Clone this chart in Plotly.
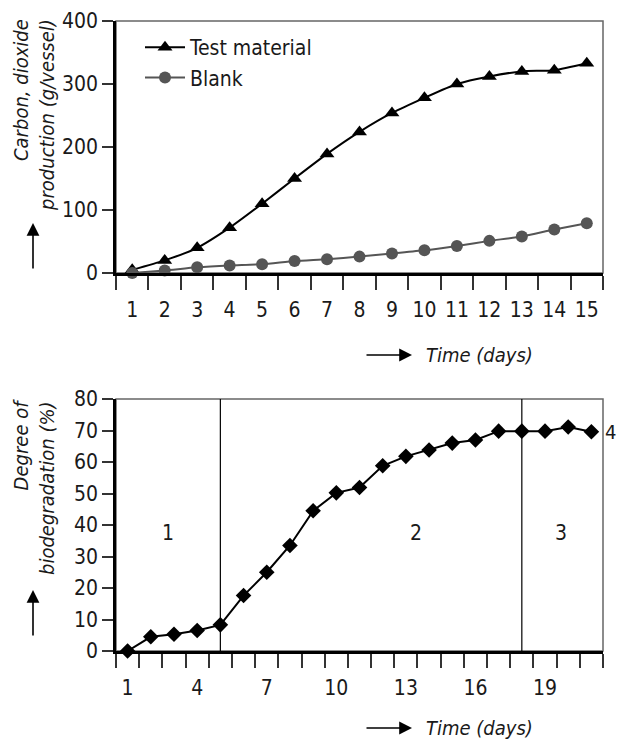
import plotly.graph_objects as go

# --- data -------------------------------------------------------------
days_co2 = list(range(1, 16))
co2_test = [5, 20, 40, 72, 110, 150, 189, 224, 254, 278, 300, 312, 320, 322, 333]
co2_blank = [0, 4, 9, 12, 14, 19, 22, 26, 31, 36, 43, 51, 58, 69, 79]

days_bio = list(range(1, 22))
biodeg = [0, 4.5, 5.3, 6.5, 8.3, 17.6, 25, 33.5, 44.5, 50.2, 51.9, 58.8, 61.8,
          63.8, 66, 67, 69.8, 69.8, 69.8, 71.1, 69.6]

co2_yticks = [0, 100, 200, 300, 400]
bio_yticks = [0, 10, 20, 30, 40, 50, 60, 70, 80]
bio_xticks = [1, 4, 7, 10, 13, 16, 19]
phase_bounds = [5, 18]
phase_labels = ["1", "2", "3"]
phase_label_x = [2.74, 13.43, 19.68]
phase_label_y = 37.5

FONT = "Liberation Sans Narrow, DejaVu Sans Condensed, Arial Narrow, sans-serif"
INK = "#1a1a1a"
W, H = 618, 740


def px(x):
    return x / W


def py(y):
    return 1 - y / H


fig = go.Figure()

fig.add_trace(go.Scatter(
    x=days_co2, y=co2_test, name="Test material", mode="lines+markers",
    line=dict(color="black", width=2, shape="spline", smoothing=0.6),
    marker=dict(symbol="triangle-up", size=13, color="black"),
    cliponaxis=False, xaxis="x", yaxis="y"))
fig.add_trace(go.Scatter(
    x=days_co2, y=co2_blank, name="Blank", mode="lines+markers",
    line=dict(color="#555555", width=2, shape="spline", smoothing=0.6),
    marker=dict(symbol="circle", size=12, color="#555555"),
    cliponaxis=False, xaxis="x", yaxis="y"))
fig.add_trace(go.Scatter(
    x=days_bio, y=biodeg, mode="lines+markers", showlegend=False,
    line=dict(color="black", width=2),
    marker=dict(symbol="diamond", size=12, color="black"),
    cliponaxis=False, xaxis="x2", yaxis="y2"))

tick_font = dict(family=FONT, size=21, color=INK)

common_x = dict(showline=True, linecolor="black", linewidth=2.5, showgrid=False,
                zeroline=False, ticks="outside", ticklen=14, automargin=False,
                ticklabelstandoff=2,
                tickcolor="rgba(0,0,0,0)", tickfont=tick_font)
common_y = dict(showline=True, linecolor="black", linewidth=2.5, showgrid=False,
                zeroline=False, ticks="outside", ticklen=11, tickwidth=1.5,
                automargin=False, tickcolor="#333333", tickfont=tick_font)
minor_ticks = dict(ticks="outside", ticklen=14, tickwidth=1.5, tickcolor="#333333",
                   showgrid=False)

fig.update_layout(
    width=W, height=H, margin=dict(l=0, r=0, t=0, b=0, autoexpand=False),
    plot_bgcolor="white", paper_bgcolor="white",
    font=dict(family=FONT, size=21, color=INK),
    xaxis=dict(domain=[px(116), px(603)], range=[0.5, 15.5],
               tickmode="array", tickvals=days_co2, anchor="y",
               minor=dict(tickmode="array",
                          tickvals=[d - 0.5 for d in days_co2] + [15.5],
                          **minor_ticks),
               **common_x),
    yaxis=dict(domain=[py(273), py(21)], range=[0, 400], tickmode="array",
               tickvals=co2_yticks, anchor="x", **common_y),
    xaxis2=dict(domain=[px(116), px(603)], range=[0.5, 21.5],
                tickmode="array", tickvals=bio_xticks, anchor="y2",
                minor=dict(tickmode="array",
                           tickvals=[d - 0.5 for d in days_bio] + [21.5],
                           **minor_ticks),
                **common_x),
    yaxis2=dict(domain=[py(651), py(399)], range=[0, 80], tickmode="array",
                tickvals=bio_yticks, anchor="x2", **common_y),
    legend=dict(x=px(140), y=py(27), xanchor="left", yanchor="top",
                bgcolor="rgba(0,0,0,0)", font=dict(family=FONT, size=21, color=INK),
                tracegroupgap=0, itemwidth=40),
    showlegend=True,
)

# thin grey frame on the top and right of each panel
for xr, yr in (("x", "y"), ("x2", "y2")):
    fig.add_shape(type="rect", xref=f"{xr} domain", yref=f"{yr} domain",
                  x0=0, x1=1, y0=0, y1=1, line=dict(color="#666666", width=1.5),
                  layer="below")

# phase boundaries in the biodegradation panel
for xb in phase_bounds:
    fig.add_shape(type="line", xref="x2", yref="y2", x0=xb, x1=xb, y0=0, y1=80,
                  line=dict(color="black", width=1.2), layer="below")

for lab, xl in zip(phase_labels, phase_label_x):
    fig.add_annotation(x=xl, y=phase_label_y, xref="x2", yref="y2", text=lab,
                       showarrow=False, font=dict(size=21))
fig.add_annotation(x=px(603), y=biodeg[-1], xref="paper", yref="y2", text="4",
                   xanchor="left", showarrow=False, font=dict(size=20))

# rotated axis titles
fig.add_annotation(x=px(34), y=py(17), xref="paper", yref="paper",
                   text="<i>Carbon, dioxide<br>production (g/vessel)</i>",
                   textangle=-90, align="right", xanchor="center", yanchor="top",
                   showarrow=False, font=dict(size=20))
fig.add_annotation(x=px(34), y=py(397), xref="paper", yref="paper",
                   text="<i>Degree of<br>biodegradation (%)</i>",
                   textangle=-90, align="right", xanchor="center", yanchor="top",
                   showarrow=False, font=dict(size=20))

# direction arrows next to the axis titles
for head_y in (223, 590):
    fig.add_annotation(x=px(33), y=py(head_y), xref="paper", yref="paper",
                       ax=0, ay=47, text="", showarrow=True, arrowhead=2,
                       arrowsize=1.6, arrowwidth=1.6, arrowcolor="black")
for row_y in (355, 728):
    fig.add_annotation(x=px(412), y=py(row_y), xref="paper", yref="paper",
                       ax=-47, ay=0, text="", showarrow=True, arrowhead=2,
                       arrowsize=1.6, arrowwidth=1.6, arrowcolor="black")
    fig.add_annotation(x=px(424), y=py(row_y), xref="paper", yref="paper",
                       text="<i>Time (days)</i>", xanchor="left", yanchor="middle",
                       showarrow=False, font=dict(size=20))

fig.write_html("out.html")
